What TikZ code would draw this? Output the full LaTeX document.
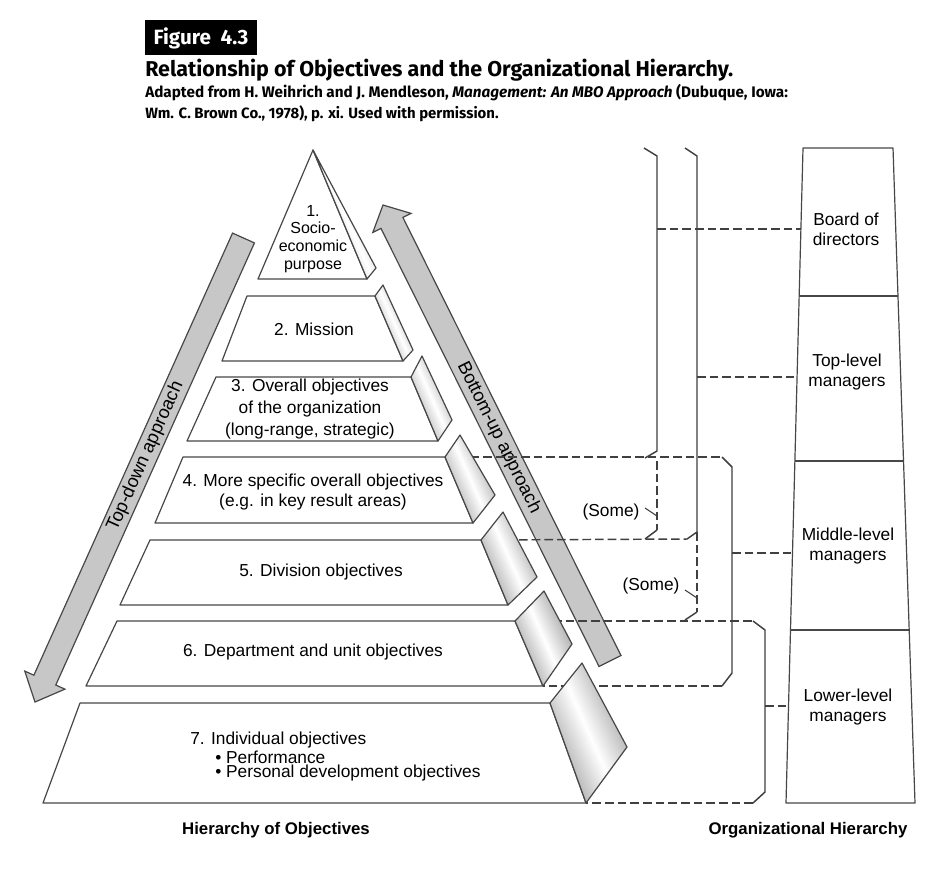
\documentclass[tikz,border=0pt]{standalone}
\usepackage{fontspec}
\setmainfont{Liberation Sans}
\newfontfamily\hdrfont{Fira Sans}
\usetikzlibrary{calc}
\begin{document}
\begin{tikzpicture}[x=0.75pt,y=-0.75pt,
  lvl/.style={draw=black!72, line width=0.9pt, fill=white, line join=round},
  face/.style={draw=black!72, line width=0.9pt, line join=round, top color=black!42, bottom color=black!42, middle color=white, shading angle=-66},
  bigarrow/.style={draw=black!72, line width=0.9pt, fill=black!22, line join=miter},
  brk/.style={draw=black!75, line width=1.1pt},
  dsh/.style={draw=black!75, line width=1.1pt, dash pattern=on 6.5pt off 3pt},
  txt/.style={font=\fontsize{13}{15}\selectfont, align=center, inner sep=0pt},
  lab/.style={font=\fontsize{12.6}{14}\selectfont\bfseries, inner sep=0pt},
]
\fill[white] (0,0) rectangle (948,872);
\useasboundingbox (0,0) rectangle (948,872);

% ---------- header ----------
\fill[black] (145,20) rectangle (257,55);
\node[text=white, font=\hdrfont\bfseries\fontsize{15.5}{17}\selectfont, inner sep=0pt] (fig) at (201,38) {Figure\ \ 4.3};
\node[anchor=base west, inner sep=0pt] (title) at (145,76)
  {\resizebox{441pt}{!}{\hdrfont\bfseries Relationship of Objectives and the Organizational Hierarchy.}};
\node[anchor=base west, inner sep=0pt] (sub1) at (145,97)
  {\resizebox{482pt}{!}{\hdrfont\bfseries Adapted from H. Weihrich and J. Mendleson, \textit{Management: An MBO Approach} (Dubuque, Iowa:}};
\node[anchor=base west, inner sep=0pt] (sub2) at (145,118)
  {\resizebox{265pt}{!}{\hdrfont\bfseries Wm. C. Brown Co., 1978), p. xi. Used with permission.}};

% ---------- big arrows ----------
\coordinate (tdS) at (243.5,238);
\coordinate (tdT) at (35,702);
\coordinate (tdH) at ($(tdT)!18pt!(tdS)$);
\draw[bigarrow] ($(tdS)!9pt!90:(tdT)$) -- ($(tdH)!9pt!90:(tdT)$) -- ($(tdH)!16.5pt!90:(tdT)$) -- (tdT)
  -- ($(tdH)!16.5pt!-90:(tdT)$) -- ($(tdH)!9pt!-90:(tdT)$) -- ($(tdS)!9pt!-90:(tdT)$) -- cycle;
\node[txt, font=\fontsize{13.8}{15}\selectfont, rotate=65.8] (tdlab) at ($(tdS)!0.47!(tdT)$) {Top-down approach};

\coordinate (buS) at (610,661);
\coordinate (buT) at (383,205);
\coordinate (buH) at ($(buT)!15pt!(buS)$);
\draw[bigarrow] ($(buS)!9.2pt!90:(buT)$) -- ($(buH)!9.2pt!90:(buT)$) -- ($(buH)!16pt!90:(buT)$) -- (buT)
  -- ($(buH)!16pt!-90:(buT)$) -- ($(buH)!9.2pt!-90:(buT)$) -- ($(buS)!9.2pt!-90:(buT)$) -- cycle;
\node[txt, font=\fontsize{13.8}{15}\selectfont, rotate=-63.5] (bulab) at ($(buS)!0.49!(buT)$) {Bottom-up approach};

% ---------- level corner coordinates ----------
\coordinate (l4tr) at (445,457);
\coordinate (l5tr) at (481,540);
\coordinate (l6tr) at (515,621);
\coordinate (l6br) at (543,686);
\coordinate (l7br) at (586,803);

% ---------- dashed level lines ----------
\coordinate (c1) at (722,457);
\coordinate (c2) at (732,467);
\coordinate (c3) at (732,673);
\coordinate (c4) at (722,686);
\coordinate (b5) at (687,539);
\coordinate (b6) at (697,532);
\coordinate (d1) at (753,621);
\coordinate (d2) at (765,630);
\coordinate (d3) at (765,792);
\coordinate (d4) at (753,803);
\draw[dsh] (l4tr) -- (c1);
\draw[dsh] (l5tr) -- (b5);
\draw[dsh] (l6tr) -- (d1);
\draw[dsh] (c4) -- (l6br);
\draw[dsh] (d4) -- (l7br);

% ---------- pyramid ----------
\draw[lvl] (313,150) -- (367,279) -- (258,279) -- cycle;
\draw[face] (313,150) -- (376,268) -- (367,279) -- cycle;
\draw[lvl] (247,296) -- (375,296) -- (403,361) -- (222,361) -- cycle;
\draw[face] (375,296) -- (383,285) -- (413,350) -- (403,361) -- cycle;
\draw[lvl] (216,377) -- (411,377) -- (438,441) -- (187,441) -- cycle;
\draw[face] (411,377) -- (422,356) -- (452,420) -- (438,441) -- cycle;
\draw[lvl] (183,457) -- (l4tr) -- (473,523) -- (155,523) -- cycle;
\draw[face] (l4tr) -- (460,435) -- (495,495) -- (473,523) -- cycle;
\draw[lvl] (150,540) -- (l5tr) -- (508,605) -- (120,605) -- cycle;
\draw[face] (l5tr) -- (503,512) -- (537,577) -- (508,605) -- cycle;
\draw[lvl] (117,621) -- (l6tr) -- (l6br) -- (86,686) -- cycle;
\draw[face] (l6tr) -- (544,591) -- (572,644) -- (l6br) -- cycle;
\draw[lvl] (80,703) -- (550,703) -- (l7br) -- (43,803) -- cycle;
\draw[face] (550,703) -- (582,663) -- (627,747) -- (l7br) -- cycle;

\node[txt, font=\fontsize{12}{13.3}\selectfont] (t1) at (313,239) {1.\\Socio-\\economic\\purpose};
\node[txt] (t2) at (314,329) {2. Mission};
\node[txt, font=\fontsize{13}{16.5}\selectfont] (t3) at (310,409) {3. Overall objectives\\of the organization\\(long-range, strategic)};
\node[txt, font=\fontsize{13}{14.3}\selectfont] (t4) at (313,492) {4. More specific overall objectives\\(e.g. in key result areas)};
\node[txt] (t5) at (321,572) {5. Division objectives};
\node[txt] (t6) at (313,652) {6. Department and unit objectives};
\node[txt, anchor=west] (t7a) at (190,740) {7. Individual objectives};
\node[txt, anchor=west] (t7b) at (215,757) {• Performance};
\node[txt, anchor=west] (t7c) at (215,773) {• Personal development objectives};

% ---------- brackets ----------
\coordinate (a1) at (644,148);
\coordinate (a2) at (657,156);
\coordinate (a3) at (657,451);
\coordinate (a4) at (645,458);
\coordinate (a5) at (657,461);
\coordinate (a6) at (657,530);
\coordinate (a7) at (645,539);
\draw[brk] (a1) -- (a2) -- (a3) -- (a4);
\draw[dsh] (a5) -- (a6);
\draw[brk] (a6) -- (a7);

\coordinate (b1) at (685,148);
\coordinate (b2) at (697,156);
\coordinate (b7) at (697,612);
\coordinate (b8) at (685,620);
\draw[brk] (b1) -- (b2) -- (b6) -- (b5);
\draw[dsh] (b6) -- (b7);
\draw[brk] (b7) -- (b8);

\draw[brk] (c1) -- (c2) -- (c3) -- (c4);
\draw[brk] (d1) -- (d2) -- (d3) -- (d4);

\node[txt] (some1) at (611,512) {(Some)};
\coordinate (s1a) at (645,508);
\coordinate (s1b) at (657,516);
\draw[brk, line width=0.8pt] (s1a) -- (s1b);
\node[txt] (some2) at (651,586) {(Some)};
\coordinate (s2a) at (685,590);
\coordinate (s2b) at (697,598);
\draw[brk, line width=0.8pt] (s2a) -- (s2b);

% ---------- organisational tower ----------
\draw[lvl] (803,148) -- (893,148) -- (915,803) -- (786,803) -- cycle;
\draw[lvl] (799.2,296) -- (898,296);
\draw[lvl] (794.9,461) -- (903.5,461);
\draw[lvl] (790.5,630) -- (909.2,630);
\node[txt] (board) at (846,229) {Board of\\directors};
\node[txt] (top) at (847,372) {Top-level\\managers};
\node[txt] (mid) at (848,546) {Middle-level\\managers};
\node[txt] (low) at (848,707) {Lower-level\\managers};

\coordinate (ea) at (657,229);
\coordinate (eb) at (697,377);
\coordinate (ec) at (732,553);
\coordinate (ed) at (765,706);
\draw[dsh] (ea) -- (800.9,229);
\draw[dsh] (eb) -- (797.1,377);
\draw[dsh] (ec) -- (792.5,553);
\draw[dsh] (ed) -- (788.5,706);

% ---------- bottom labels ----------
\node[lab] (hobj) at (276,830) {Hierarchy of Objectives};
\node[lab] (horg) at (808,830) {Organizational Hierarchy};
\end{tikzpicture}
\end{document}
